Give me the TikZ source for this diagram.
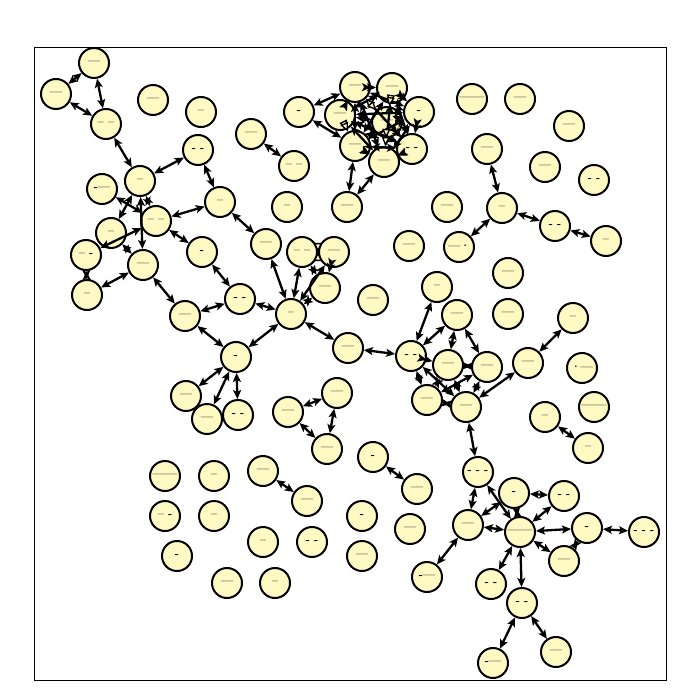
\documentclass[tikz,border=0pt]{standalone}
\usetikzlibrary{arrows.meta}
\definecolor{nodefill}{RGB}{255,250,196}
\tikzset{
  vtx/.style={circle,draw=black,fill=nodefill,line width=2pt,minimum size=30pt,inner sep=0pt,font=\fontsize{11}{12}\selectfont\bfseries},
  lnk/.style={line width=2.3pt,{Stealth[length=9pt,width=8pt,inset=2pt]}-{Stealth[length=9pt,width=8pt,inset=2pt]}},
  olnk/.style={line width=1.3pt,{Triangle[open,length=9pt,width=8pt,fill=nodefill]}-{Triangle[open,length=9pt,width=8pt,fill=nodefill]}}
}
\begin{document}
\begin{tikzpicture}[x=1pt,y=-1pt]
\useasboundingbox (0,0) rectangle (700,700);
\draw[line width=1pt] (34,48) rectangle (666,680);
% nodes
\foreach \n/\x/\y/\t in {
n1/94/63/—, n2/56/94/—, n3/106/124/– –, n4/153/100/—, n5/201/112/–,
n6/198/150/- -, n7/140/181/–, n8/102/189/-—, n9/156/221/– –, n10/220/202/–,
n11/111/233/–, n12/86/255/– -, n13/143/265/—, n14/87/295/–, n15/202/252/-,
n16/251/134/—, n17/294/166/– –, n18/287/207/–, n19/266/244/—, n20/302/252/– –,
n21/334/252/—, n22/325/288/—, n23/291/314/–, n24/240/299/- -, n25/185/316/—,
n26/236/357/-, n27/186/396/—, n28/207/419/—, n29/238/415/- -, n30/348/348/—,
n31/373/300/—, n32/347/207/—, n33/299/112/-,
c1/355/87/—, c2/392/88/—, c3/340/115/—, c4/387/122/—, c5/419/112/-,
c6/355/146/—, c7/384/162/—, c8/412/149/- -,
r1/472/99/——, r2/520/99/—, r3/569/126/—, r4/487/149/—, r5/545/167/—,
r6/594/180/- -, r7/447/207/—, r8/502/208/–, r9/555/226/- -, r10/606/241/–,
r11/459/247/—·, r12/409/246/—, r13/508/273/—, r14/437/287/–, r15/508/314/—,
r16/457/315/—, r17/573/318/–, r18/545/417/–, r19/582/368/·—, r20/594/407/——,
r21/588/448/–,
m1/411/356/- -, m2/448/365/—, m3/487/367/—, m4/528/363/—, m5/427/400/—, m6/466/407/—,
p1/337/393/—, p2/288/412/—, p3/327/449/—, p4/373/457/-, p5/417/489/—,
q1/263/471/—, q2/307/501/—,
b1/165/476/——, b2/214/476/–, b3/165/516/– -, b4/214/516/–, b5/362/516/-,
b6/410/529/—, b7/263/542/–, b8/312/542/- -, b9/362/556/—, b10/177/556/-,
b11/227/583/—, b12/275/583/–, b13/427/577/-—,
s1/478/472/- - -, s2/514/493/-, s3/564/496/- -, s4/468/525/—, s5/520/532/——,
s6/587/528/-, s7/644/532/- - -, s8/564/561/—, s9/491/584/- -, s10/522/603/- -,
s11/493/663/-—, s12/556/652/—}
  \node[vtx] (\n) at (\x,\y) {\t};
% edges
\foreach \a/\b in {
n1/n2, n1/n3, n2/n3, n3/n7, n6/n7, n7/n11, n7/n13, n7/n9, n8/n9, n12/n9,
n11/n13, n12/n14, n13/n14, n9/n10, n9/n15, n6/n10, n10/n19, n16/n17, n15/n24,
n13/n25, n24/n25, n25/n26, n24/n23, n19/n23, n20/n23, n21/n23, n22/n23,
n21/n22, n20/n22, n23/n26, n23/n30, n26/n27, n26/n28, n26/n29, n30/m1,
n33/c1, n33/c6, n32/c6, n32/c7,
c1/c2, c1/c3, c1/c5, c1/c6, c1/c7, c1/c8, c2/c3, c2/c5, c2/c6, c2/c7,
c2/c8, c3/c4, c3/c5, c3/c7, c3/c8, c4/c5, c4/c6, c4/c8,
c5/c6, c5/c7, c5/c8, c6/c7, c6/c8, c7/c8,
r4/r8, r8/r11, r8/r9, r9/r10,
r14/m1, r16/m1, r16/m2, r16/m3, m1/m5, m1/m6, m2/m5, m2/m6, m3/m5, m3/m6,
m5/m6, m4/m6, r17/m4, m1/m2, m2/m3,
r18/r21, p1/p2, p1/p3, p2/p3, p4/p5, q1/q2,
m6/s1, s1/s4, s1/s5, s2/s5, s4/s2, s2/s3, s3/s5, s4/s5, s5/s6, s5/s8, s6/s8,
s5/s10, s5/s9, s6/s7, s10/s11, s10/s12, s4/b13}
  \draw[lnk] (\a) -- (\b);
\draw[olnk] (n20) -- (n21);
\draw[olnk] (c1) -- (c4);
\draw[olnk] (c2) -- (c4);
\draw[olnk] (c3) -- (c6);
\draw[olnk] (c4) -- (c7);
\end{tikzpicture}
\end{document}
